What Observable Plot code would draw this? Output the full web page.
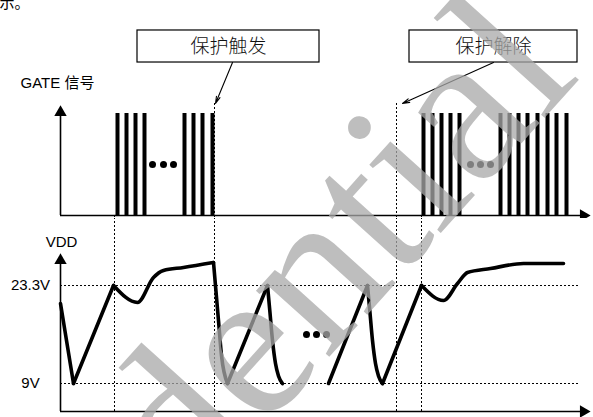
<!DOCTYPE html>
<html><head><meta charset="utf-8">
<script src="https://cdn.jsdelivr.net/npm/d3@7"></script>
<script src="https://cdn.jsdelivr.net/npm/@observablehq/plot@0.6"></script>
<style>
html,body{margin:0;padding:0;background:#fff;}
#chart{position:relative;width:593px;height:417px;overflow:hidden;}
#chart svg{display:block;}
#chart .wm{position:absolute;left:0;top:0;pointer-events:none;}
</style></head><body><div id="chart"></div>
<script>
// ---- data (time in arbitrary units, 0 = origin of axes) ----
const gatePulses = [57,66,75,84,124,133,142,152,363,372,381,390,399,440,449,458,467,477,487,496,506];
const gateHigh = 1;
const gateEllipsis = [92,103,113,410,420,430];
const guideTop = [154,336];          // dotted lines that start at the arrows
const guideAll = [54,154,336,361];   // dotted lines through the VDD panel
const boxLabels = ["保护触发","保护解除"];
const boxStart = [77,349];
const boxEnd = [259,517];
const arrowFrom = [172,433];
const arrowTo = [155,342];
const vddLevels = [9,23.3];
const vddLabels = ["9V","23.3V"];
const vddPiece = [1,1, 2,2, 3,3,3,3,3,3, 4,4,4,4, 5,5, 6,6,6,6,6,6, 7,7, 8,8,8,8,8,8, 9,9, 10,10,10,10,10,10,10,10];
const vddT = [0,13, 13,53, 53,77,93,103,123,153, 153,158,161,167, 167,207, 207,209.5,212,215,218,222, 268,307, 307,309.5,312,315,318,322, 322,361, 361,383,397,407,430,463,483,503];
const vddV = [20.67,9, 9,23.3, 23.3,20.82,24.47,25.49,25.93,26.66, 26.66,18.19,13.09,9, 9,23.3, 23.3,19.3,15.27,11.92,10.1,9, 9,23.3, 23.3,19.3,15.27,11.92,10.1,9, 9,23.3, 23.3,21.11,23.59,25.20,25.78,26.51,26.51,26.51];
const vddEllipsis = [246,256,266];
const vddEllipsisV = 16.15;
const watermark = ["Confidential"];

// ---- derived tables ----
const boxes = boxLabels.map((label,i)=>({label, t1: boxStart[i], t2: boxEnd[i], a1: arrowFrom[i], a2: arrowTo[i]}));
const vdd = vddT.map((t,i)=>({t, v: vddV[i], piece: vddPiece[i]}));
const levels = vddLevels.map((v,i)=>({v, label: vddLabels[i]}));

const font = "'Liberation Sans', Arial, 'Noto Sans CJK SC', sans-serif";
const xScale = {domain: [-60, 533], range: [0, 593], axis: null};
const dash = "2,2";

const topPlot = Plot.plot({
  width: 593, height: 218, margin: 0,
  x: xScale,
  y: {domain: [-0.0294, 2.108], range: [218, 0], axis: null},
  style: {fontFamily: font, background: "white", color: "black"},
  marks: [
    Plot.ruleX(guideTop, {x: d=>d, y1: 1.098, y2: 0, stroke: "black", strokeWidth: 1, strokeDasharray: dash}),
    Plot.ruleX(guideAll, {x: d=>d, y1: 0, y2: -0.03, stroke: "black", strokeWidth: 1, strokeDasharray: dash}),
    Plot.ruleX(gatePulses, {x: d=>d, y1: 0, y2: gateHigh, stroke: "black", strokeWidth: 4}),
    Plot.dot(gateEllipsis, {x: d=>d, y: 0.5, r: 3.5, fill: "black", stroke: null}),
    Plot.ruleX([0], {x: d=>d, y1: 0, y2: 1.0, stroke: "black", strokeWidth: 1.6}),
    Plot.ruleY([0], {y: d=>d, x1: 0, x2: 522, stroke: "black", strokeWidth: 1.6}),
    Plot.dot([0], {x: 0, y: 1.01, symbol: "triangle", r: 4.6, fill: "black", stroke: null}),
    Plot.dot([0], {x: 523, y: 0, symbol: "triangle", rotate: 90, r: 4.6, fill: "black", stroke: null}),
    Plot.arrow(boxes, {x1: "a1", y1: 1.5, x2: "a2", y2: 1.098, stroke: "black", strokeWidth: 1.1, headLength: 10, headAngle: 30}),
    Plot.rect(boxes, {x1: "t1", x2: "t2", y1: 1.5, y2: 1.814, fill: "white", stroke: "black", strokeWidth: 1.2}),
    Plot.text(boxes, {x: d=>(d.t1+d.t2)/2, y: 1.657, text: "label", fontSize: 19, fontFamily: "'Noto Sans CJK SC', sans-serif", fontWeight: 300, fill: "#111"}),
    Plot.text(["GATE 信号"], {x: -40, y: 1.294, text: d=>d, textAnchor: "start", fontSize: 15, fill: "black"}),
    Plot.text(["示。"], {x: -61, y: 2.085, text: d=>d, textAnchor: "start", fontSize: 15, fontFamily: "'Noto Sans CJK SC', sans-serif", fill: "black"})
  ]
});

const bottomPlot = Plot.plot({
  width: 593, height: 199, margin: 0,
  x: xScale,
  y: {domain: [4.04, 33.08], range: [199, 0], axis: null},
  style: {fontFamily: font, background: "white", color: "black"},
  marks: [
    Plot.ruleY(levels, {y: "v", x1: 0, x2: 518, stroke: "black", strokeWidth: 1, strokeDasharray: dash}),
    Plot.ruleX(guideAll, {x: d=>d, y1: 4.914, y2: 33.2, stroke: "black", strokeWidth: 1, strokeDasharray: dash}),
    Plot.line(vdd, {x: "t", y: "v", z: "piece", curve: "monotone-x", stroke: "black", strokeWidth: 3.6, strokeLinejoin: "round", strokeLinecap: "round"}),
    Plot.dot(vddEllipsis, {x: d=>d, y: vddEllipsisV, r: 3.5, fill: "black", stroke: null}),
    Plot.ruleX([0], {x: d=>d, y1: 4.914, y2: 26.95, stroke: "black", strokeWidth: 1.6}),
    Plot.ruleY([4.914], {y: d=>d, x1: 0, x2: 522, stroke: "black", strokeWidth: 1.6}),
    Plot.dot([0], {x: 0, y: 26.95, symbol: "triangle", r: 4.6, fill: "black", stroke: null}),
    Plot.dot([0], {x: 523, y: 4.914, symbol: "triangle", rotate: 90, r: 4.6, fill: "black", stroke: null}),
    Plot.text(levels, {x: -30, y: "v", text: "label", fontSize: 15, fill: "black"}),
    Plot.text(["VDD"], {x: 1, y: 29.57, text: d=>d, fontSize: 15, fill: "black"})
  ]
});

// watermark overlay, drawn in page coordinates of the whole figure
const wmPlot = Plot.plot({
  width: 593, height: 417, margin: 0,
  x: {domain: [0, 593], range: [0, 593], axis: null},
  y: {domain: [0, 417], range: [0, 417], axis: null},
  style: {background: "transparent"},
  marks: [
    Plot.text(watermark, {x: 530, y: 30, text: d=>d, rotate: -48, textAnchor: "end", fontSize: 215, fontFamily: "'Liberation Serif', 'Times New Roman', serif", fill: "#a8a8a8", fillOpacity: 0.75})
  ]
});
wmPlot.classList.add("wm");

const el = document.getElementById("chart");
el.appendChild(topPlot);
el.appendChild(bottomPlot);
el.appendChild(wmPlot);
</script>
</body></html>
